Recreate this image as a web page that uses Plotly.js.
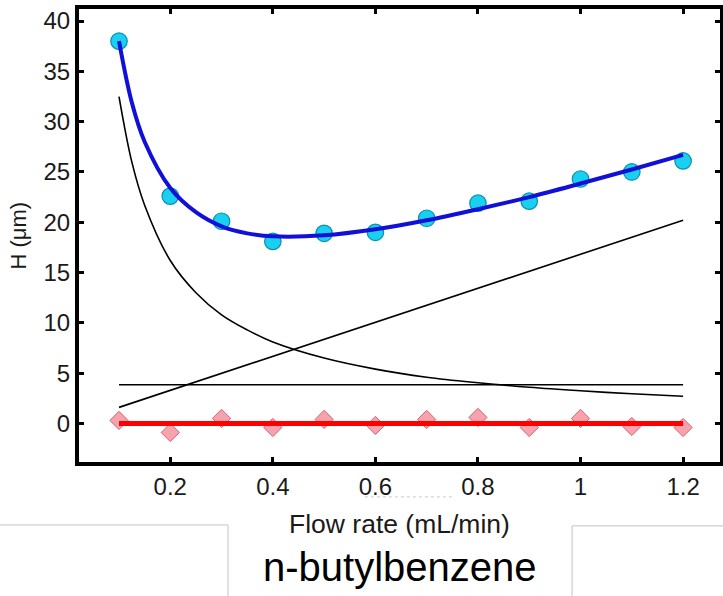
<!DOCTYPE html>
<html>
<head>
<meta charset="utf-8">
<script src="https://cdn.plot.ly/plotly-3.0.1.min.js"></script>
<style>
  html, body { margin: 0; padding: 0; background: #ffffff; }
  #chart { width: 723px; height: 596px; }
</style>
</head>
<body>
<div id="chart"></div>
<script>
// Plate height of n-butylbenzene against flow rate (van Deemter plot)
const flowRate = [0.1, 0.2, 0.3, 0.4, 0.5, 0.6, 0.7, 0.8, 0.9, 1.0, 1.1, 1.2];
const plateHeight = [38.0, 22.6, 20.1, 18.1, 18.9, 19.0, 20.4, 21.9, 22.1, 24.3, 25.0, 26.1];
const residuals = [0.3, -0.9, 0.5, -0.4, 0.4, -0.2, 0.4, 0.6, -0.4, 0.5, -0.3, -0.4];

// fitted curve and its terms, read at these flow rates
const fitFlow = [0.1, 0.125, 0.15, 0.2, 0.25, 0.3, 0.35, 0.4, 0.5, 0.6, 0.7, 0.8, 0.9, 1.0, 1.1, 1.2];
const fitH = [38.0, 31.9, 28.0, 23.4, 21.0, 19.6, 18.9, 18.6, 18.7, 19.3, 20.2, 21.3, 22.5, 23.85, 25.25, 26.7];
const termB = [32.5, 26.0, 21.7, 16.2, 13.0, 10.8, 9.3, 8.1, 6.5, 5.4, 4.6, 4.05, 3.6, 3.25, 2.95, 2.7];
const termAFlow = [0.1, 1.2];
const termA = [3.85, 3.85];
const termCFlow = [0.1, 1.2];
const termC = [1.6, 20.2];
const zeroFlow = [0.1, 1.2];
const zeroLine = [0, 0];

const xTickVals = [0.2, 0.4, 0.6, 0.8, 1.0, 1.2];
const xTickText = ['0.2', '0.4', '0.6', '0.8', '1', '1.2'];
const yTickVals = [0, 5, 10, 15, 20, 25, 30, 35, 40];

const traces = [
  { x: fitFlow, y: termB, mode: 'lines', line: { color: '#000000', width: 1.6, shape: 'spline' }, hoverinfo: 'skip' },
  { x: termAFlow, y: termA, mode: 'lines', line: { color: '#000000', width: 1.6 }, hoverinfo: 'skip' },
  { x: termCFlow, y: termC, mode: 'lines', line: { color: '#000000', width: 1.6 }, hoverinfo: 'skip' },
  { x: flowRate, y: residuals, mode: 'markers',
    marker: { symbol: 'diamond', size: 14, color: '#f6a3ad', line: { color: '#d9606c', width: 1 } } },
  { x: zeroFlow, y: zeroLine, mode: 'lines', line: { color: '#ff0000', width: 5 } },
  { x: flowRate, y: plateHeight, mode: 'markers',
    marker: { symbol: 'circle', size: 16.5, color: '#1ad0f0', line: { color: '#0a8fb0', width: 1.2 } } },
  { x: fitFlow, y: fitH, mode: 'lines', line: { color: '#1010d8', width: 4, shape: 'spline' } }
];

const font = 'Liberation Sans, Arial, sans-serif';

const layout = {
  width: 723, height: 596,
  margin: { l: 79, r: 3, t: 9, b: 134 },
  paper_bgcolor: '#ffffff', plot_bgcolor: '#ffffff',
  showlegend: false,
  font: { family: font, color: '#000000' },
  xaxis: {
    range: [0.022, 1.272],
    tickvals: xTickVals, ticktext: xTickText,
    ticks: 'inside', ticklen: 5, tickwidth: 3, tickcolor: '#000000',
    showline: true, linewidth: 4, linecolor: '#000000', mirror: 'ticks',
    showgrid: false, zeroline: false,
    tickfont: { family: font, size: 24, color: '#1a1a1a' }
  },
  yaxis: {
    range: [-3.83, 41.2],
    tickvals: yTickVals,
    ticks: 'inside', ticklen: 5, tickwidth: 3, tickcolor: '#000000',
    showline: true, linewidth: 4, linecolor: '#000000', mirror: 'ticks',
    showgrid: false, zeroline: false,
    tickfont: { family: font, size: 24, color: '#1a1a1a' }
  },
  annotations: [
    { text: 'H (μm)', xref: 'paper', yref: 'paper', x: -0.095, y: 0.5,
      textangle: -90, showarrow: false, xanchor: 'center', yanchor: 'middle',
      font: { family: font, size: 22, color: '#1a1a1a' } },
    { text: 'Flow rate (mL/min)', xref: 'paper', yref: 'paper', x: 0.4995, y: -0.137,
      showarrow: false, xanchor: 'center', yanchor: 'middle',
      font: { family: font, size: 26.5, color: '#1a1a1a' } },
    { text: 'n-butylbenzene', xref: 'paper', yref: 'paper', x: 0.501, y: -0.232,
      showarrow: false, xanchor: 'center', yanchor: 'middle',
      font: { family: font, size: 40, color: '#000000' } }
  ],
  shapes: [
    { type: 'path', xref: 'paper', yref: 'paper',
      path: 'M -0.125 -0.139 L 0.2325 -0.139 L 0.2325 -0.32',
      line: { color: '#c4c4c4', width: 1 } },
    { type: 'path', xref: 'paper', yref: 'paper',
      path: 'M 0.7692 -0.32 L 0.7692 -0.141 L 1.01 -0.141',
      line: { color: '#c4c4c4', width: 1 } },
    { type: 'line', xref: 'paper', yref: 'paper',
      x0: 0.446, x1: 0.585, y0: -0.077, y1: -0.077,
      line: { color: '#c8c8c8', width: 1, dash: 'dot' } }
  ]
};

Plotly.newPlot('chart', traces, layout, { displayModeBar: false, staticPlot: true });
</script>
</body>
</html>
